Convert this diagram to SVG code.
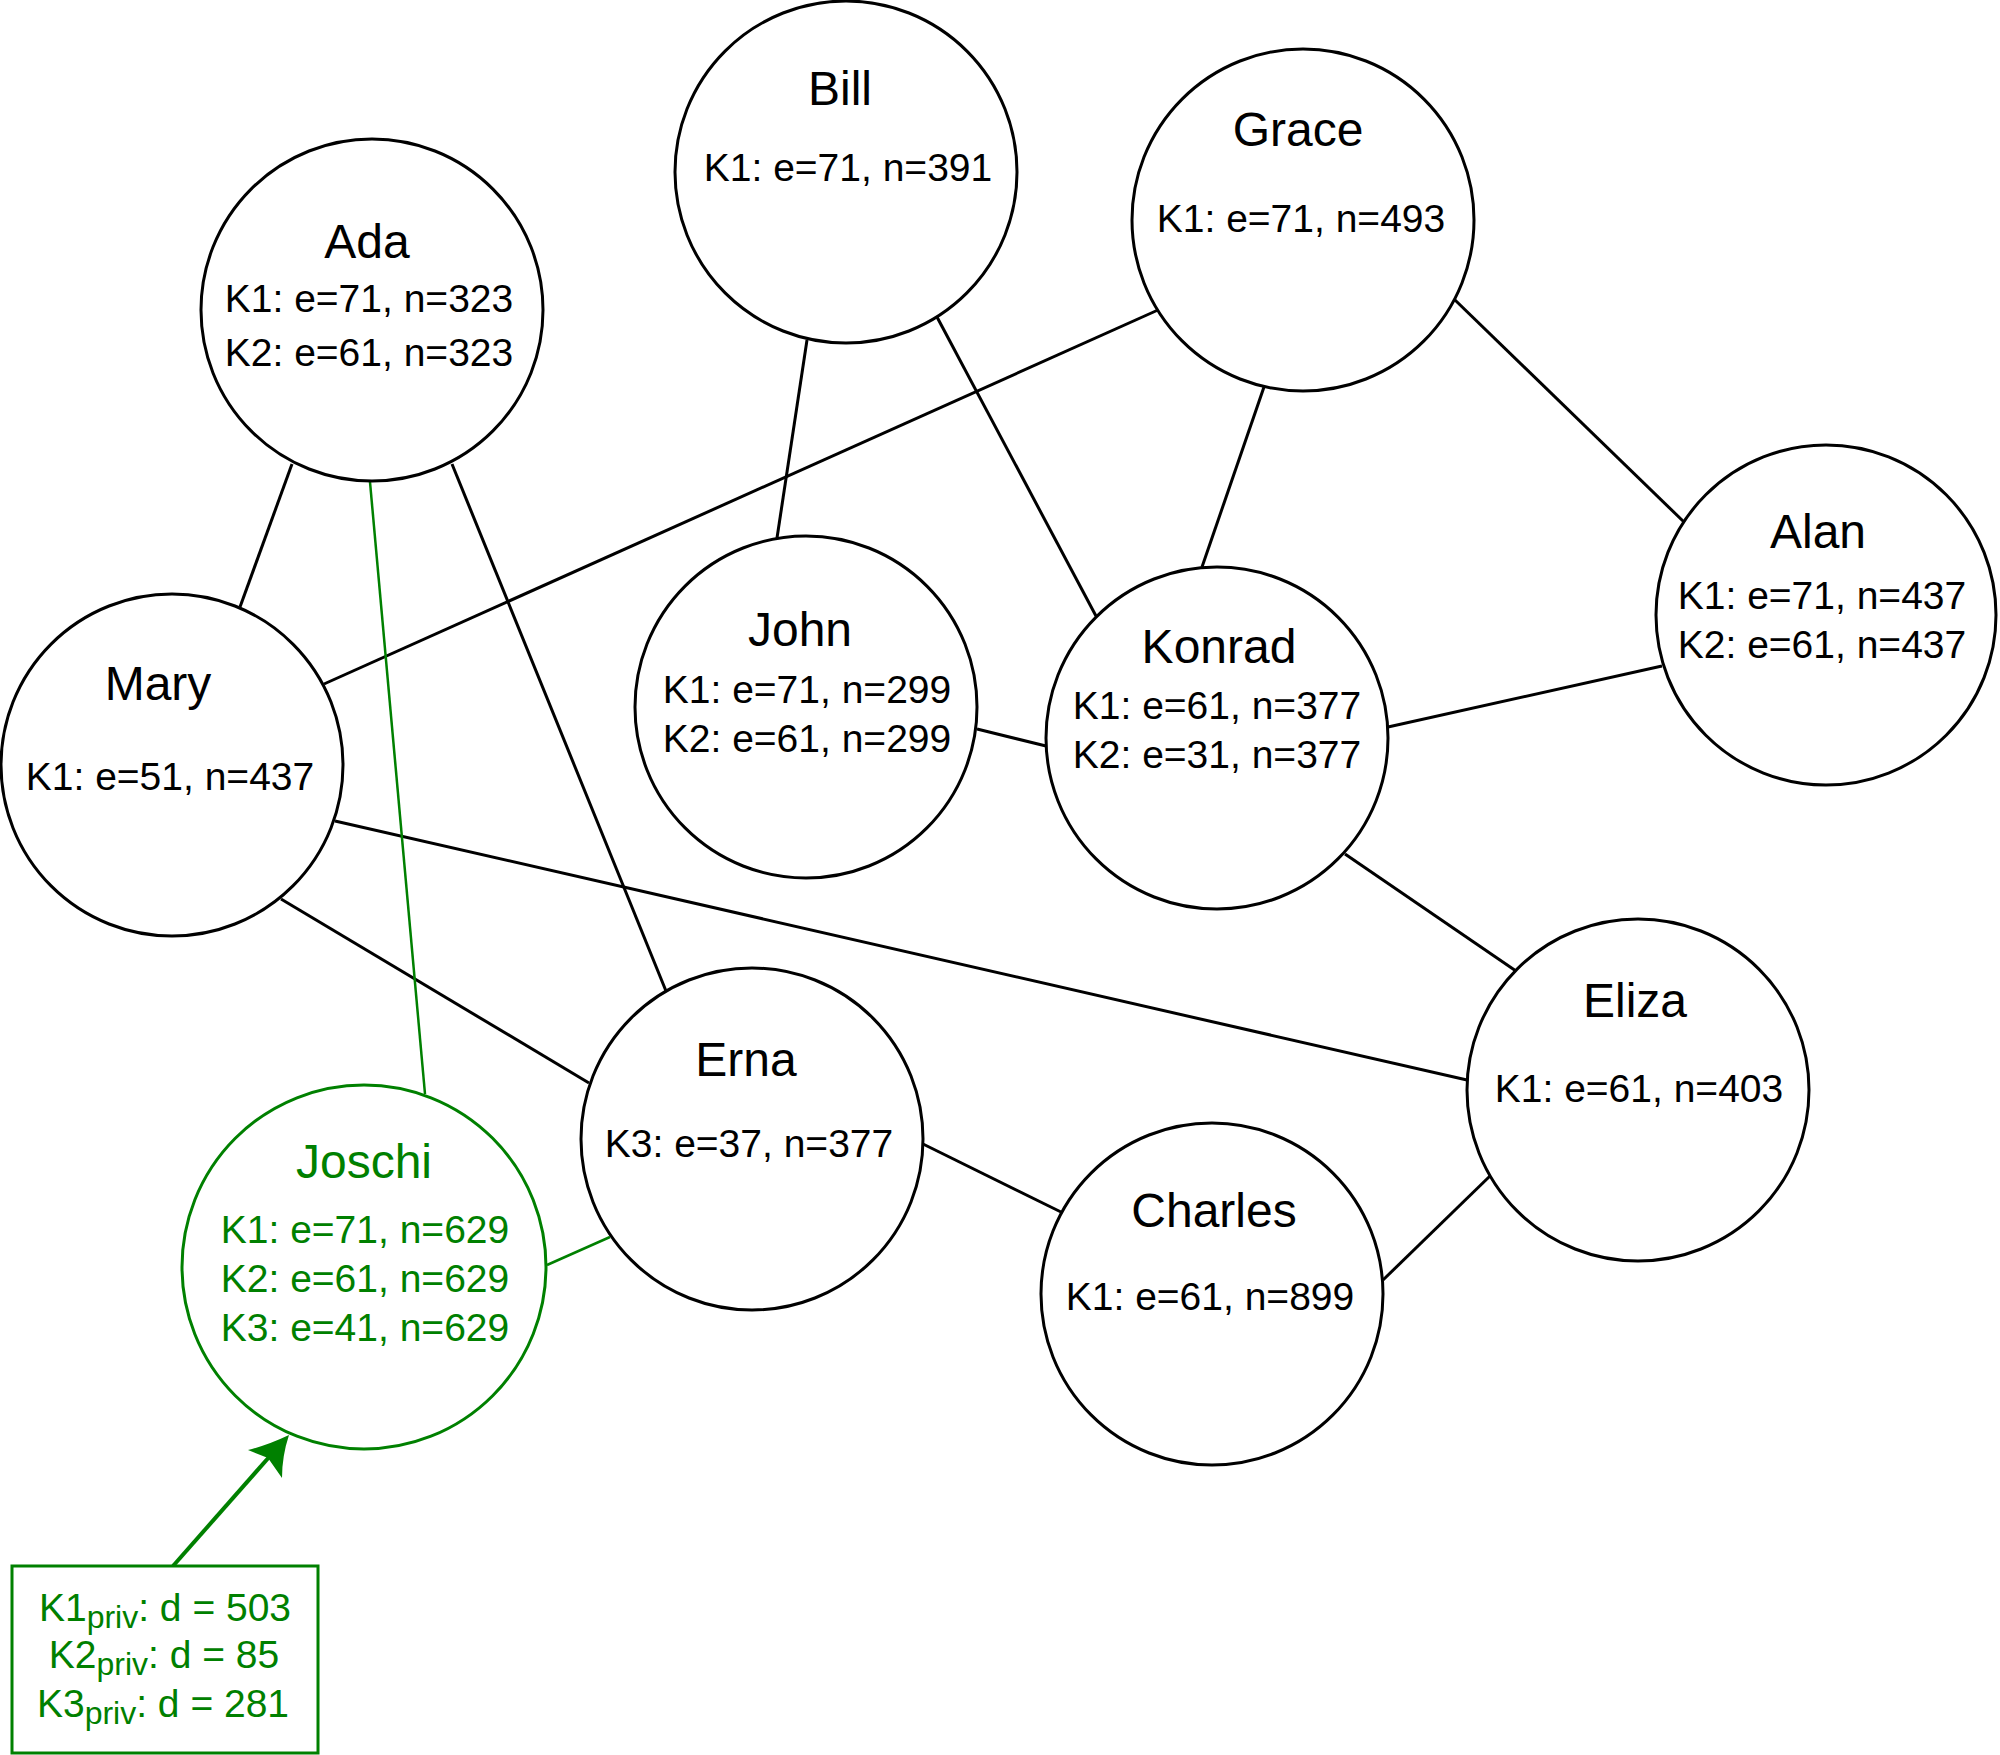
<svg xmlns="http://www.w3.org/2000/svg" width="2000" height="1755" viewBox="0 0 2000 1755">
<style>
  .node { fill: #ffffff; stroke: #000000; stroke-width: 3; }
  .gnode { fill: #ffffff; stroke: #008000; stroke-width: 3; }
  .edge { stroke: #000000; stroke-width: 3; fill: none; }
  .gedge { stroke: #008000; stroke-width: 2.5; fill: none; }
  .name { font-family: "Liberation Sans", Arial, sans-serif; font-size: 48px; fill: #000000; text-anchor: middle; }
  .key { font-family: "Liberation Sans", Arial, sans-serif; font-size: 39px; fill: #000000; text-anchor: middle; }
  .green { fill: #008000; }
</style>
<rect x="0" y="0" width="2000" height="1755" fill="#ffffff"/>
<g id="connectors">
  <line class="edge" x1="292" y1="464" x2="240" y2="607"/>
  <line class="edge" x1="452" y1="464" x2="666" y2="991"/>
  <line class="edge" x1="807" y1="340" x2="777" y2="538"/>
  <line class="edge" x1="937" y1="317" x2="1096" y2="616"/>
  <line class="edge" x1="1158" y1="310" x2="324" y2="684"/>
  <line class="edge" x1="1264" y1="387" x2="1202" y2="567"/>
  <line class="edge" x1="1455" y1="300" x2="1684" y2="522"/>
  <line class="edge" x1="977" y1="729" x2="1046" y2="746"/>
  <line class="edge" x1="1388" y1="727" x2="1662" y2="666"/>
  <line class="edge" x1="1345" y1="854" x2="1516" y2="971"/>
  <line class="edge" x1="335" y1="821" x2="1467" y2="1080"/>
  <line class="edge" x1="281" y1="899" x2="589" y2="1083"/>
  <line class="edge" x1="923" y1="1144" x2="1061" y2="1212"/>
  <line class="edge" x1="1383" y1="1280" x2="1490" y2="1176"/>
  <line class="gedge" x1="370" y1="482" x2="425" y2="1094"/>
  <line class="gedge" x1="547" y1="1265" x2="610" y2="1237"/>
  <line stroke="#008000" stroke-width="4" x1="173" y1="1566" x2="270" y2="1456"/>
  <path fill="#008000" stroke="none" d="M289 1435 Q268 1445 248 1450 L268 1458 L282 1478 Q282 1456 289 1435 Z"/>
</g>
<g id="ada">
  <circle class="node" cx="372" cy="310" r="171"/>
  <text class="name" x="367" y="258">Ada</text>
  <text class="key" x="369" y="312">K1: e=71, n=323</text>
  <text class="key" x="369" y="366">K2: e=61, n=323</text>
</g>
<g id="bill">
  <circle class="node" cx="846" cy="172" r="171"/>
  <text class="name" x="840" y="105">Bill</text>
  <text class="key" x="848" y="181">K1: e=71, n=391</text>
</g>
<g id="grace">
  <circle class="node" cx="1303" cy="220" r="171"/>
  <text class="name" x="1298" y="146">Grace</text>
  <text class="key" x="1301" y="232">K1: e=71, n=493</text>
</g>
<g id="alan">
  <circle class="node" cx="1826" cy="615" r="170"/>
  <text class="name" x="1818" y="548">Alan</text>
  <text class="key" x="1822" y="609">K1: e=71, n=437</text>
  <text class="key" x="1822" y="658">K2: e=61, n=437</text>
</g>
<g id="mary">
  <circle class="node" cx="172" cy="765" r="171"/>
  <text class="name" x="158" y="700">Mary</text>
  <text class="key" x="170" y="790">K1: e=51, n=437</text>
</g>
<g id="john">
  <circle class="node" cx="806" cy="707" r="171"/>
  <text class="name" x="800" y="646">John</text>
  <text class="key" x="807" y="703">K1: e=71, n=299</text>
  <text class="key" x="807" y="752">K2: e=61, n=299</text>
</g>
<g id="konrad">
  <circle class="node" cx="1217" cy="738" r="171"/>
  <text class="name" x="1219" y="663">Konrad</text>
  <text class="key" x="1217" y="719">K1: e=61, n=377</text>
  <text class="key" x="1217" y="768">K2: e=31, n=377</text>
</g>
<g id="erna">
  <circle class="node" cx="752" cy="1139" r="171"/>
  <text class="name" x="746" y="1076">Erna</text>
  <text class="key" x="749" y="1157">K3: e=37, n=377</text>
</g>
<g id="eliza">
  <circle class="node" cx="1638" cy="1090" r="171"/>
  <text class="name" x="1635" y="1017">Eliza</text>
  <text class="key" x="1639" y="1102">K1: e=61, n=403</text>
</g>
<g id="charles">
  <circle class="node" cx="1212" cy="1294" r="171"/>
  <text class="name" x="1214" y="1227">Charles</text>
  <text class="key" x="1210" y="1310">K1: e=61, n=899</text>
</g>
<g id="joschi">
  <circle class="gnode" cx="364" cy="1267" r="182"/>
  <text class="name green" x="364" y="1178">Joschi</text>
  <text class="key green" x="365" y="1243">K1: e=71, n=629</text>
  <text class="key green" x="365" y="1292">K2: e=61, n=629</text>
  <text class="key green" x="365" y="1341">K3: e=41, n=629</text>
</g>
<g id="private-keys">
  <rect x="12" y="1566" width="306" height="187" fill="#ffffff" stroke="#008000" stroke-width="3"/>
  <text class="key green" x="165" y="1621">K1<tspan font-size="32" dy="7">priv</tspan><tspan dy="-7">: d = 503</tspan></text>
  <text class="key green" x="164" y="1668">K2<tspan font-size="32" dy="7">priv</tspan><tspan dy="-7">: d = 85</tspan></text>
  <text class="key green" x="163" y="1717">K3<tspan font-size="32" dy="7">priv</tspan><tspan dy="-7">: d = 281</tspan></text>
</g>
</svg>
